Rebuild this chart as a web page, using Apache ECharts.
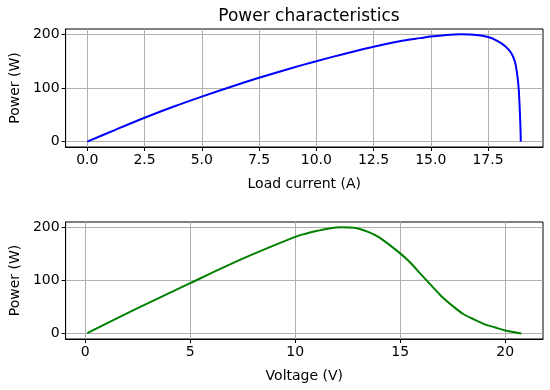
<!DOCTYPE html>
<html><head><meta charset="utf-8">
<script src="https://cdn.jsdelivr.net/npm/echarts@6/dist/echarts.min.js"></script>
<style>html,body{margin:0;padding:0;background:#fff}#c{width:550px;height:390px}</style>
</head><body><div id="c"></div>
<script>
const currentA = [0, 1.25, 2.5, 3.75, 5, 6.25, 7.5, 8.75, 10, 11.25, 12.5, 13.75, 14.55, 15, 15.7, 16.3, 17.0, 17.5, 17.9, 18.25, 18.5, 18.68, 18.78, 18.84, 18.89, 18.92, 18.93];
const powerI   = [0, 22.5, 44.5, 65, 84, 102, 119, 135, 150, 164, 177, 188, 193, 196, 199, 200, 199, 195, 188, 178, 166, 148, 123, 98, 55, 20, 0];
const voltageV = [0.1, 2.5, 5, 7.5, 10, 10.5, 11, 11.5, 12.2, 12.8, 13.5, 14, 15, 15.5, 16, 16.5, 17, 17.5, 18, 18.5, 19, 19.5, 20, 20.4, 20.77];
const powerV   = [1, 48, 95, 141, 182, 188, 193, 197, 200, 199, 191, 181, 151, 133, 111, 90, 69, 52, 37, 27, 18, 12, 6, 3, 0.5];
const xTicksTop = [0, 2.5, 5, 7.5, 10, 12.5, 15, 17.5];
const xTicksBottom = [0, 5, 10, 15, 20];
const yTicks = [0, 100, 200];

const FONT = 'DejaVu Sans';
const chart = echarts.init(document.getElementById('c'), null, {renderer: 'canvas'});
function xAxisCfg(idx, min, max, ticks, name, fmt) {
  return {
    type: 'value', gridIndex: idx, min: min, max: max,
    name: name, nameLocation: 'middle', nameGap: 30,
    nameTextStyle: {fontFamily: FONT, fontSize: 14, color: '#000'},
    axisLine: {show: true, onZero: false, lineStyle: {color: '#000', width: 1}},
    axisTick: {show: true, inside: false, length: 4, customValues: ticks, lineStyle: {color: '#000'}},
    axisLabel: {customValues: ticks, formatter: fmt, fontFamily: FONT, fontSize: 14, color: '#000', margin: 6},
    splitLine: {show: true, lineStyle: {color: '#b0b0b0', width: 1}}
  };
}
function yAxisCfg(idx) {
  return {
    type: 'value', gridIndex: idx, min: -10, max: 210,
    name: 'Power (W)', nameLocation: 'middle', nameGap: 43,
    nameTextStyle: {fontFamily: FONT, fontSize: 14, color: '#000'},
    axisLine: {show: true, onZero: false, lineStyle: {color: '#000', width: 1}},
    axisTick: {show: true, inside: false, length: 4, customValues: yTicks, lineStyle: {color: '#000'}},
    axisLabel: {customValues: yTicks, fontFamily: FONT, fontSize: 14, color: '#000', margin: 6},
    splitLine: {show: true, lineStyle: {color: '#b0b0b0', width: 1}}
  };
}
chart.setOption({
  animation: false,
  backgroundColor: '#fff',
  title: {text: 'Power characteristics', left: 304, textAlign: 'center', top: 3,
    textStyle: {fontFamily: FONT, fontSize: 17, fontWeight: 'normal', color: '#000'}},
  grid: [
    {left: 64, right: 7, top: 29, height: 118, show: true, borderColor: '#000', borderWidth: 1, backgroundColor: 'transparent'},
    {left: 64, right: 7, top: 222, height: 117, show: true, borderColor: '#000', borderWidth: 1, backgroundColor: 'transparent'}
  ],
  xAxis: [
    xAxisCfg(0, -0.9475, 19.9, xTicksTop, 'Load current (A)', v => v.toFixed(1)),
    xAxisCfg(1, -0.93, 21.8, xTicksBottom, 'Voltage (V)', v => String(v))
  ],
  yAxis: [yAxisCfg(0), yAxisCfg(1)],
  series: [
    {type: 'line', xAxisIndex: 0, yAxisIndex: 0, data: currentA.map((x, i) => [x, powerI[i]]),
     showSymbol: false, smooth: 0.3, lineStyle: {color: '#0000ff', width: 2}, itemStyle: {color: '#0000ff'}},
    {type: 'line', xAxisIndex: 1, yAxisIndex: 1, data: voltageV.map((x, i) => [x, powerV[i]]),
     showSymbol: false, smooth: 0.3, lineStyle: {color: '#008000', width: 2}, itemStyle: {color: '#008000'}}
  ]
});
</script></body></html>
